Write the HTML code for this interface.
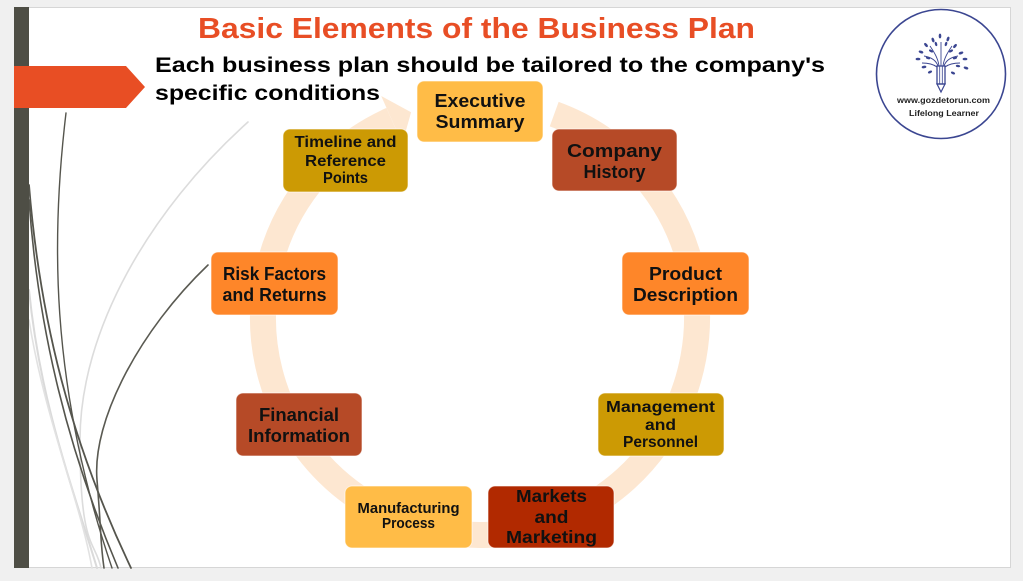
<!DOCTYPE html>
<html>
<head>
<meta charset="utf-8">
<style>
  html, body { margin:0; padding:0; background:#f0f0f0; }
  svg { display:block; }
  text { font-family: "Liberation Sans", "DejaVu Sans", sans-serif; font-weight: bold; }
</style>
</head>
<body>
<svg width="1023" height="581" viewBox="0 0 1023 581" xmlns="http://www.w3.org/2000/svg">
  <!-- background & slide -->
  <rect x="0" y="0" width="1023" height="581" fill="#f0f0f0"/>
  <rect x="14.5" y="7.5" width="996" height="560" fill="#ffffff" stroke="#d6d6d6" stroke-width="1"/>

  <!-- decorative curves -->
  <g fill="none" stroke-linecap="round">
    <path d="M 248 122 C 150 210, 80 330, 80 440 S 95 540, 101 568" stroke="#dcdcdc" stroke-width="1.6"/>
    <path d="M 29 290 C 40 400, 70 480, 97 568" stroke="#dadada" stroke-width="2"/>
    <path d="M 29 320 C 45 420, 80 500, 92 568" stroke="#e2e2e2" stroke-width="1.6"/>
    <path d="M 66 113 C 52 230, 48 380, 112 568" stroke="#55554d" stroke-width="1.4"/>
    <path d="M 29 185 C 40 320, 70 440, 131 568" stroke="#55554d" stroke-width="1.8"/>
    <path d="M 29 200 C 38 330, 68 450, 118 568" stroke="#55554d" stroke-width="1.6"/>
    <path d="M 208 265 C 140 330, 92 420, 97 480 S 100 540, 104 568" stroke="#5a5a52" stroke-width="1.6"/>
  </g>

  <!-- left dark bar -->
  <rect x="14" y="7" width="15" height="561" fill="#4e4e45"/>

  <!-- orange arrow -->
  <polygon points="14,66 126,66 145,87 126,108 14,108" fill="#e84e24"/>

  <!-- title -->
  <text x="198" y="38" font-size="29" fill="#e84e25" textLength="557" lengthAdjust="spacingAndGlyphs">Basic Elements of the Business Plan</text>
  <text x="155" y="72" font-size="21" fill="#000" textLength="670" lengthAdjust="spacingAndGlyphs">Each business plan should be tailored to the company's</text>
  <text x="155" y="100" font-size="21" fill="#000" textLength="225" lengthAdjust="spacingAndGlyphs">specific conditions</text>

  <!-- ring with arrow -->
  <path d="M 554.2 114.1 A 217 217 0 1 1 391.7 119.8" fill="none" stroke="#fde7d1" stroke-width="26"/>
  <polygon points="381.2,96 411.1,112.2 402.3,143.5" fill="#fde7d1"/>

  <!-- boxes -->
  <g stroke="#ffffff" stroke-opacity="0.6" stroke-width="1">
    <rect x="417" y="81" width="126" height="61" rx="7" fill="#ffbc47"/>
    <rect x="552" y="129" width="125" height="62" rx="7" fill="#b64a27"/>
    <rect x="622" y="252" width="127" height="63" rx="7" fill="#fe8629"/>
    <rect x="598" y="393" width="126" height="63" rx="7" fill="#cc9a04"/>
    <rect x="488" y="486" width="126" height="62" rx="7" fill="#b12900"/>
    <rect x="345" y="486" width="127" height="62" rx="7" fill="#ffbc47"/>
    <rect x="236" y="393" width="126" height="63" rx="7" fill="#b64a27"/>
    <rect x="211" y="252" width="127" height="63" rx="7" fill="#fe8629"/>
    <rect x="283" y="129" width="125" height="63" rx="7" fill="#cc9a04"/>
  </g>

  <!-- box labels -->
  <g fill="#111" text-anchor="middle">
    <text x="480" y="107" font-size="18.5" textLength="91" lengthAdjust="spacingAndGlyphs">Executive</text>
    <text x="480" y="128" font-size="18.5" textLength="89" lengthAdjust="spacingAndGlyphs">Summary</text>

    <text x="614.5" y="157" font-size="18.5" textLength="95" lengthAdjust="spacingAndGlyphs">Company</text>
    <text x="614.5" y="178" font-size="18.5" textLength="62" lengthAdjust="spacingAndGlyphs">History</text>

    <text x="685.5" y="280" font-size="18.5" textLength="73" lengthAdjust="spacingAndGlyphs">Product</text>
    <text x="685.5" y="301" font-size="18.5" textLength="105" lengthAdjust="spacingAndGlyphs">Description</text>

    <text x="660.5" y="412" font-size="16" textLength="109" lengthAdjust="spacingAndGlyphs">Management</text>
    <text x="660.5" y="430" font-size="16" textLength="31" lengthAdjust="spacingAndGlyphs">and</text>
    <text x="660.5" y="447" font-size="16" textLength="75" lengthAdjust="spacingAndGlyphs">Personnel</text>

    <text x="551.5" y="502" font-size="17.5" textLength="71" lengthAdjust="spacingAndGlyphs">Markets</text>
    <text x="551.5" y="523" font-size="17.5" textLength="34" lengthAdjust="spacingAndGlyphs">and</text>
    <text x="551.5" y="543" font-size="17.5" textLength="91" lengthAdjust="spacingAndGlyphs">Marketing</text>

    <text x="408.5" y="513" font-size="14.5" textLength="102" lengthAdjust="spacingAndGlyphs">Manufacturing</text>
    <text x="408.5" y="528" font-size="14.5" textLength="53" lengthAdjust="spacingAndGlyphs">Process</text>

    <text x="299" y="421" font-size="18.5" textLength="80" lengthAdjust="spacingAndGlyphs">Financial</text>
    <text x="299" y="442" font-size="18.5" textLength="102" lengthAdjust="spacingAndGlyphs">Information</text>

    <text x="274.5" y="280" font-size="18.5" textLength="103" lengthAdjust="spacingAndGlyphs">Risk Factors</text>
    <text x="274.5" y="301" font-size="18.5" textLength="104" lengthAdjust="spacingAndGlyphs">and Returns</text>

    <text x="345.5" y="147" font-size="16" textLength="102" lengthAdjust="spacingAndGlyphs">Timeline and</text>
    <text x="345.5" y="166" font-size="16" textLength="81" lengthAdjust="spacingAndGlyphs">Reference</text>
    <text x="345.5" y="183" font-size="16" textLength="45" lengthAdjust="spacingAndGlyphs">Points</text>
  </g>

  <!-- logo -->
  <g>
    <circle cx="941" cy="74" r="64.5" fill="#ffffff" stroke="#3b4691" stroke-width="1.6"/>
    <!-- pencil -->
    <rect x="937" y="66" width="8" height="18" fill="none" stroke="#3b4691" stroke-width="1.3"/>
    <line x1="939.7" y1="66" x2="939.7" y2="84" stroke="#3b4691" stroke-width="0.8"/>
    <line x1="942.3" y1="66" x2="942.3" y2="84" stroke="#3b4691" stroke-width="0.8"/>
    <polygon points="937,84 945,84 941,92" fill="none" stroke="#3b4691" stroke-width="1.2"/>
    <!-- branches -->
    <g fill="none" stroke="#3b4691" stroke-width="0.9">
      <path d="M 938 66 C 936 60, 930 57, 924 56"/>
      <path d="M 939 66 C 938 58, 934 52, 930 46"/>
      <path d="M 941 66 C 941 58, 941 50, 941 42"/>
      <path d="M 943 66 C 944 58, 948 52, 952 46"/>
      <path d="M 944 66 C 946 60, 952 57, 958 56"/>
      <path d="M 937 67 C 933 64, 928 63, 922 63"/>
      <path d="M 945 67 C 949 64, 954 63, 960 63"/>
    </g>
    <!-- leaves -->
    <g fill="#3b4691">
      <ellipse cx="933" cy="40" rx="1.3" ry="2.4" transform="rotate(-20 933 40)"/>
      <ellipse cx="940" cy="36" rx="1.3" ry="2.4"/>
      <ellipse cx="948" cy="39" rx="1.3" ry="2.4" transform="rotate(20 948 39)"/>
      <ellipse cx="926" cy="45" rx="1.3" ry="2.4" transform="rotate(-40 926 45)"/>
      <ellipse cx="936" cy="44" rx="1.2" ry="2.2" transform="rotate(-15 936 44)"/>
      <ellipse cx="946" cy="44" rx="1.2" ry="2.2" transform="rotate(15 946 44)"/>
      <ellipse cx="955" cy="46" rx="1.3" ry="2.4" transform="rotate(40 955 46)"/>
      <ellipse cx="921" cy="52" rx="2.4" ry="1.3" transform="rotate(20 921 52)"/>
      <ellipse cx="931" cy="51" rx="2.2" ry="1.2" transform="rotate(30 931 51)"/>
      <ellipse cx="951" cy="51" rx="2.2" ry="1.2" transform="rotate(-30 951 51)"/>
      <ellipse cx="961" cy="53" rx="2.4" ry="1.3" transform="rotate(-20 961 53)"/>
      <ellipse cx="918" cy="59" rx="2.4" ry="1.3"/>
      <ellipse cx="928" cy="58" rx="2.2" ry="1.2" transform="rotate(15 928 58)"/>
      <ellipse cx="955" cy="58" rx="2.2" ry="1.2" transform="rotate(-15 955 58)"/>
      <ellipse cx="965" cy="59" rx="2.4" ry="1.3"/>
      <ellipse cx="924" cy="67" rx="2.4" ry="1.3" transform="rotate(-10 924 67)"/>
      <ellipse cx="958" cy="66" rx="2.2" ry="1.2" transform="rotate(10 958 66)"/>
      <ellipse cx="966" cy="68" rx="2.4" ry="1.3" transform="rotate(20 966 68)"/>
      <ellipse cx="930" cy="72" rx="2.2" ry="1.2" transform="rotate(-25 930 72)"/>
      <ellipse cx="953" cy="73" rx="2.2" ry="1.2" transform="rotate(25 953 73)"/>
    </g>
    <text x="943.5" y="103" font-size="8" fill="#222" text-anchor="middle" textLength="93" lengthAdjust="spacingAndGlyphs">www.gozdetorun.com</text>
    <text x="944" y="116" font-size="8.5" fill="#222" text-anchor="middle" textLength="70" lengthAdjust="spacingAndGlyphs">Lifelong Learner</text>
  </g>
</svg>
</body>
</html>
